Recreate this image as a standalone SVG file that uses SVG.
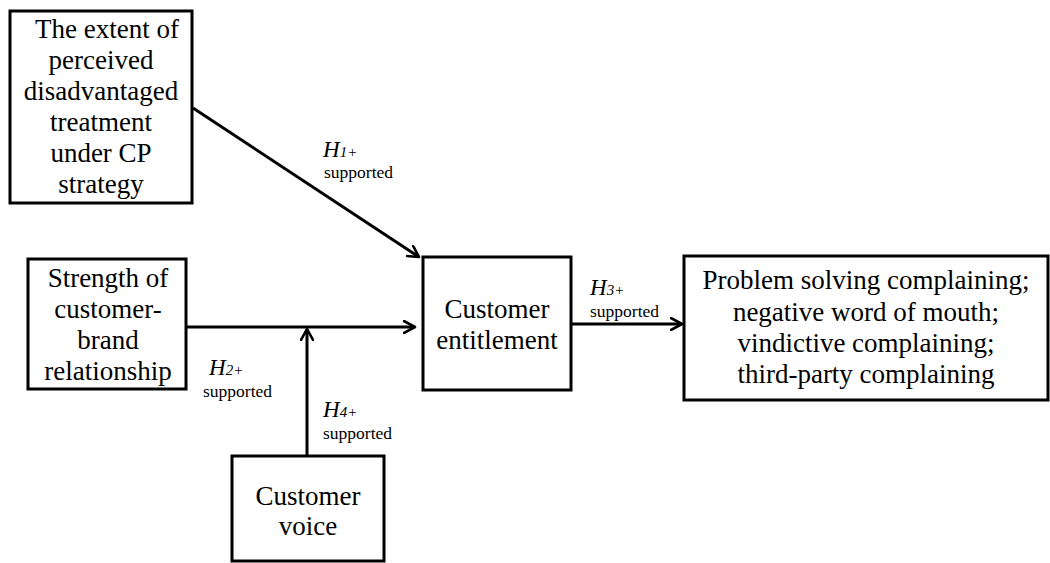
<svg xmlns="http://www.w3.org/2000/svg" width="1050" height="563" viewBox="0 0 1050 563">
<style>
.box{fill:#fff;stroke:#000;stroke-width:3}
.t{font-family:"Liberation Serif","Times New Roman",serif;font-size:27px;fill:#000;text-anchor:middle}
.h{font-family:"Liberation Serif","Times New Roman",serif;font-size:23px;font-style:italic;fill:#000}
.hs{font-size:15px}
.s{font-family:"Liberation Serif","Times New Roman",serif;font-size:17.5px;fill:#000}
.c{fill:none;stroke:#000;stroke-width:3}
</style>
<defs>
<marker id="arr" viewBox="0 0 14 14" refX="12" refY="7" markerWidth="14" markerHeight="14" markerUnits="userSpaceOnUse" orient="auto">
<path d="M1,1 L12,7 L1,13" fill="none" stroke="#000" stroke-width="2.6" stroke-linecap="round" stroke-linejoin="round"/>
</marker>
</defs>
<rect width="1050" height="563" fill="#fff"/>
<g id="connectors">
<line class="c" x1="193" y1="108" x2="419" y2="257" marker-end="url(#arr)"/>
<line class="c" x1="186" y1="327" x2="415" y2="327" marker-end="url(#arr)"/>
<line class="c" x1="307" y1="456" x2="307" y2="329" marker-end="url(#arr)"/>
<line class="c" x1="571" y1="324" x2="682" y2="324" marker-end="url(#arr)"/>
</g>
<g id="labels">
<text class="h" x="323" y="157">H<tspan class="hs">1+</tspan></text>
<text class="s" x="324" y="178">supported</text>
<text class="h" x="209" y="375">H<tspan class="hs">2+</tspan></text>
<text class="s" x="203" y="397">supported</text>
<text class="h" x="323" y="417">H<tspan class="hs">4+</tspan></text>
<text class="s" x="323" y="439">supported</text>
<text class="h" x="590" y="295">H<tspan class="hs">3+</tspan></text>
<text class="s" x="590" y="317">supported</text>
</g>
<g id="node-extent">
<rect class="box" x="10" y="11" width="182" height="192"/>
<text class="t" x="107" y="38">The extent of</text>
<text class="t" x="101" y="69">perceived</text>
<text class="t" x="101" y="100">disadvantaged</text>
<text class="t" x="101" y="131">treatment</text>
<text class="t" x="101" y="162">under CP</text>
<text class="t" x="101" y="193">strategy</text>
</g>
<g id="node-strength">
<rect class="box" x="28" y="259" width="158" height="130"/>
<text class="t" x="108" y="287">Strength of</text>
<text class="t" x="108" y="318">customer-</text>
<text class="t" x="108" y="349">brand</text>
<text class="t" x="108" y="380">relationship</text>
</g>
<g id="node-entitlement">
<rect class="box" x="423" y="257" width="148" height="133"/>
<text class="t" x="497" y="318">Customer</text>
<text class="t" x="497" y="349">entitlement</text>
</g>
<g id="node-outcomes">
<rect class="box" x="684" y="256" width="364" height="144"/>
<text class="t" x="866" y="289">Problem solving complaining;</text>
<text class="t" x="866" y="321">negative word of mouth;</text>
<text class="t" x="866" y="352">vindictive complaining;</text>
<text class="t" x="866" y="383">third-party complaining</text>
</g>
<g id="node-voice">
<rect class="box" x="232" y="456" width="152" height="105"/>
<text class="t" x="308" y="505">Customer</text>
<text class="t" x="308" y="535">voice</text>
</g>
</svg>
